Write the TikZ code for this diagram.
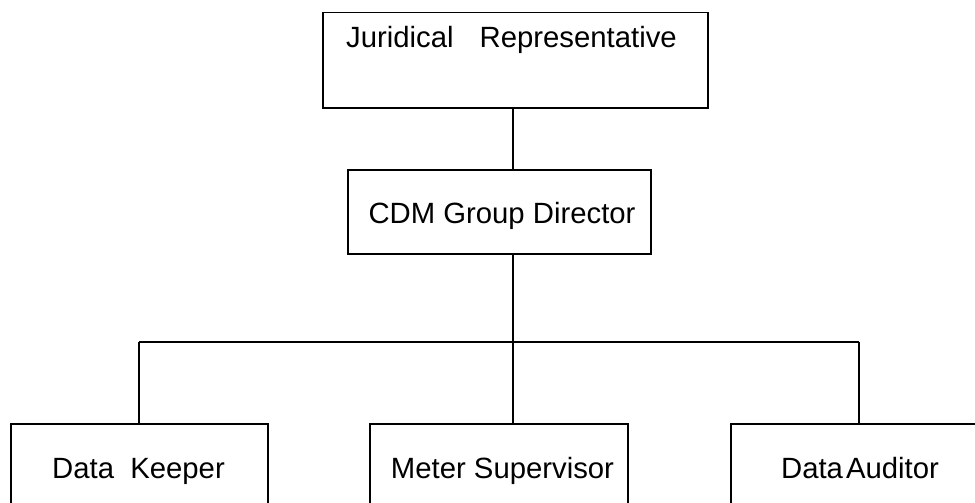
\documentclass[tikz,border=0pt]{standalone}
\usepackage{fontspec}
\setmainfont{Liberation Sans}
\begin{document}
\begin{tikzpicture}[x=1pt,y=-1pt,line width=1.5pt,
  box/.style={draw,rectangle,inner sep=0pt,anchor=north west},
  lbl/.style={font=\fontsize{29.3}{32}\selectfont,inner sep=0pt,anchor=base}]
\useasboundingbox (0,0) rectangle (975,503);
\clip (0,0) rectangle (975,503);
\node[box,minimum width=385pt,minimum height=95pt] (jr) at (322,12) {};
\node[box,minimum width=303pt,minimum height=84pt] (cdm) at (347,169) {};
\node[box,minimum width=257pt,minimum height=120pt] (dk) at (10,423) {};
\node[box,minimum width=258pt,minimum height=120pt] (ms) at (369,423) {};
\node[box,minimum width=280pt,minimum height=120pt] (da) at (730,423) {};
\node[lbl] (jrt) at (511.5,48) {Juridical\hspace{26pt}Representative};
\node[lbl] (cdmt) at (502,223) {CDM Group Director};
\node[lbl] (dkt) at (138.5,478) {Data\ \ Keeper};
\node[lbl] (mst) at (502.5,478) {Meter Supervisor};
\node[lbl] (dat) at (860,478) {Data\hspace{3pt}Auditor};
\coordinate (bus) at (513,342);
\coordinate (bl) at (139,342);
\coordinate (br) at (859,342);
\draw (jr.south -| bus) -- (cdm.north -| bus);
\draw (cdm.south -| bus) -- (bus);
\draw (bl) -- (br);
\draw (bl) -- (bl |- dk.north);
\draw (bus) -- (ms.north -| bus);
\draw (br) -- (br |- da.north);
\end{tikzpicture}
\end{document}
